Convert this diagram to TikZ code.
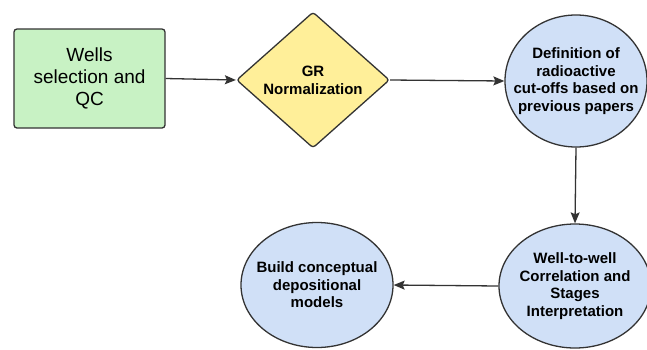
\documentclass[tikz,border=0pt]{standalone}
\usepackage{fontspec}
\setmainfont{Liberation Sans}
\usetikzlibrary{shapes.geometric,arrows.meta}
\definecolor{boxgreen}{HTML}{C8F2C4}
\definecolor{boxyellow}{HTML}{FFEF99}
\definecolor{boxblue}{HTML}{D0E0F7}
\definecolor{edge}{HTML}{333333}
\tikzset{
  shapebase/.style={draw=edge, line width=1.3pt, align=center, inner sep=0pt},
  greenbox/.style={shapebase, fill=boxgreen, rectangle, rounded corners=3pt,
    minimum width=151pt, minimum height=99pt,
    font=\fontsize{19}{22}\selectfont},
  yellowdia/.style={shapebase, fill=boxyellow, diamond, rounded corners=3pt,
    minimum width=153pt, minimum height=136pt,
    font=\fontsize{15}{18}\selectfont\bfseries},
  blueell/.style={shapebase, fill=boxblue, ellipse, inner xsep=-40pt, inner ysep=-20pt,
    font=\fontsize{15}{17.5}\selectfont\bfseries},
  flow/.style={draw=edge, line width=1.3pt, -{Stealth[length=11pt,width=9pt,inset=2pt]}}
}
\begin{document}
\begin{tikzpicture}[x=1pt,y=-1pt]
\useasboundingbox (0,0) rectangle (647,349);
\node[greenbox] (wells) at (89.5,78.5) {Wells\\selection and\\QC};
\node[yellowdia] (gr) at (313,80) {GR\\Normalization};
\node[blueell, minimum width=142pt, minimum height=132pt] (def) at (576,81)
  {Definition of\\radioactive\\cut-offs based on\\previous papers};
\node[blueell, minimum width=152pt, minimum height=124pt] (corr) at (575,286)
  {Well-to-well\\Correlation and\\Stages\\Interpretation};
\node[blueell, minimum width=152pt, minimum height=125pt] (build) at (317,285)
  {Build conceptual\\depositional\\models};
\draw[flow] (wells.east) -- (gr.west);
\draw[flow] (gr.east) -- (def.west);
\draw[flow] (def.south) -- (corr.north);
\draw[flow] (corr.west) -- (build.east);
\end{tikzpicture}
\end{document}
